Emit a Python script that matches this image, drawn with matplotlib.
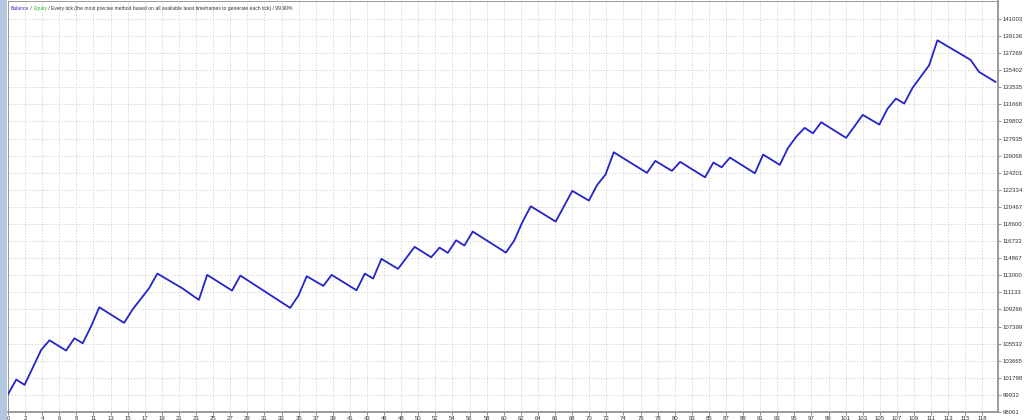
import matplotlib
matplotlib.use("Agg")
import matplotlib.pyplot as plt
from matplotlib.patches import Rectangle

# balance curve: trade number -> balance (vertices)
TRADE = [0, 1, 2, 4, 5, 7, 8, 9, 10, 11, 14, 15, 17, 18, 21, 23, 24, 27, 28,
         34, 35, 36, 38, 39, 42, 43, 44, 45, 47, 49, 51, 52, 53, 54, 55, 56,
         60, 61, 62, 63, 66, 68, 70, 71, 72, 73, 77, 78, 80, 81, 84, 85, 86,
         87, 90, 91, 93, 94, 95, 96, 97, 98, 101, 103, 105, 106, 107, 108,
         109, 111, 112, 116, 117, 119]
BALANCE = [100000, 101604, 101024, 104848, 105897, 104772, 106116, 105569,
           107394, 109502, 107798, 109251, 111578, 113184, 111578, 110311,
           113042, 111327, 112965, 109437, 110780, 112889, 111840, 113042,
           111360, 113184, 112638, 114790, 113698, 116101, 114965, 116024,
           115446, 116822, 116243, 117773, 115478, 116789, 118832, 120537,
           118865, 122219, 121159, 122875, 124000, 126436, 124186, 125497,
           124404, 125387, 123705, 125311, 124797, 125857, 124142, 126185,
           125060, 126917, 128151, 129102, 128512, 129714, 128009, 130522,
           129462, 131210, 132303, 131757, 133472, 135941, 138672, 136531,
           135220, 134127]

X_LABELS = ["0", "2", "4", "6", "8", "11", "13", "15", "17", "19", "21", "23",
            "25", "27", "29", "31", "33", "35", "37", "39", "41", "43", "46",
            "48", "50", "52", "54", "56", "58", "60", "62", "64", "66", "68",
            "70", "72", "74", "76", "78", "80", "83", "85", "87", "89", "91",
            "93", "95", "97", "99", "101", "103", "105", "107", "109", "111",
            "113", "115", "118"]
Y_LABELS = [141003, 139136, 137269, 135402, 133535, 131668, 129802, 127935,
            126068, 124201, 122334, 120467, 118600, 116733, 114867, 113000,
            111133, 109266, 107399, 105532, 103665, 101798, 99932, 98061]

TITLE_REST = (" / Every tick (the most precise method based on all available "
              "least timeframes to generate each tick) / 99.90%")

W, H = 1024, 420
X_STEP = 2.06  # trades per vertical grid line
FONT = ["Liberation Sans Narrow", "Liberation Sans", "DejaVu Sans"]

fig = plt.figure(figsize=(W / 100, H / 100), dpi=100)
fig.patch.set_facecolor("white")
fig.patches.append(Rectangle((0, 0), 7 / W, 1, transform=fig.transFigure,
                             facecolor="#b3c7df", edgecolor="none"))

ax = fig.add_axes([8 / W, 8 / H, 990 / W, 411 / H])
ax.set_xlim(0, 119.3)
ax.set_ylim(98061, 142963)

ax.plot(TRADE, BALANCE, color="#2424c8", linewidth=1.3, zorder=3)

ax.set_xticks([k * X_STEP for k in range(len(X_LABELS))])
ax.set_xticklabels(X_LABELS)
ax.set_yticks(Y_LABELS)
ax.set_yticklabels([str(v) for v in Y_LABELS])
ax.yaxis.tick_right()
ax.tick_params(axis="both", length=2, width=0.6, color="#808080",
               labelsize=4.3, labelcolor="#333333", pad=1.2)
for lbl in ax.get_xticklabels() + ax.get_yticklabels():
    lbl.set_family(FONT)

ax.grid(True, color="#d9d9d9", linestyle=(0, (1.5, 1.5)), linewidth=0.7)
ax.set_axisbelow(True)
for side, sp in ax.spines.items():
    sp.set_color("#8a8a8a")
    sp.set_linewidth(1.2 if side in ("right", "bottom") else 0.6)

fs = 3.6
t1 = ax.text(0.003, 0.988, "Balance", transform=ax.transAxes, fontsize=fs,
             family=FONT, color="#3030c0", va="top", ha="left")
t2 = ax.annotate(" / ", xy=(1, 0), xycoords=t1, fontsize=fs, family=FONT,
                 color="#333333", va="bottom", ha="left")
t3 = ax.annotate("Equity", xy=(1, 0), xycoords=t2, fontsize=fs, family=FONT,
                 color="#2fbf2f", va="bottom", ha="left")
ax.annotate(TITLE_REST, xy=(1, 0), xycoords=t3, fontsize=fs, family=FONT,
            color="#333333", va="bottom", ha="left")

fig.savefig("out.png", dpi=100)
